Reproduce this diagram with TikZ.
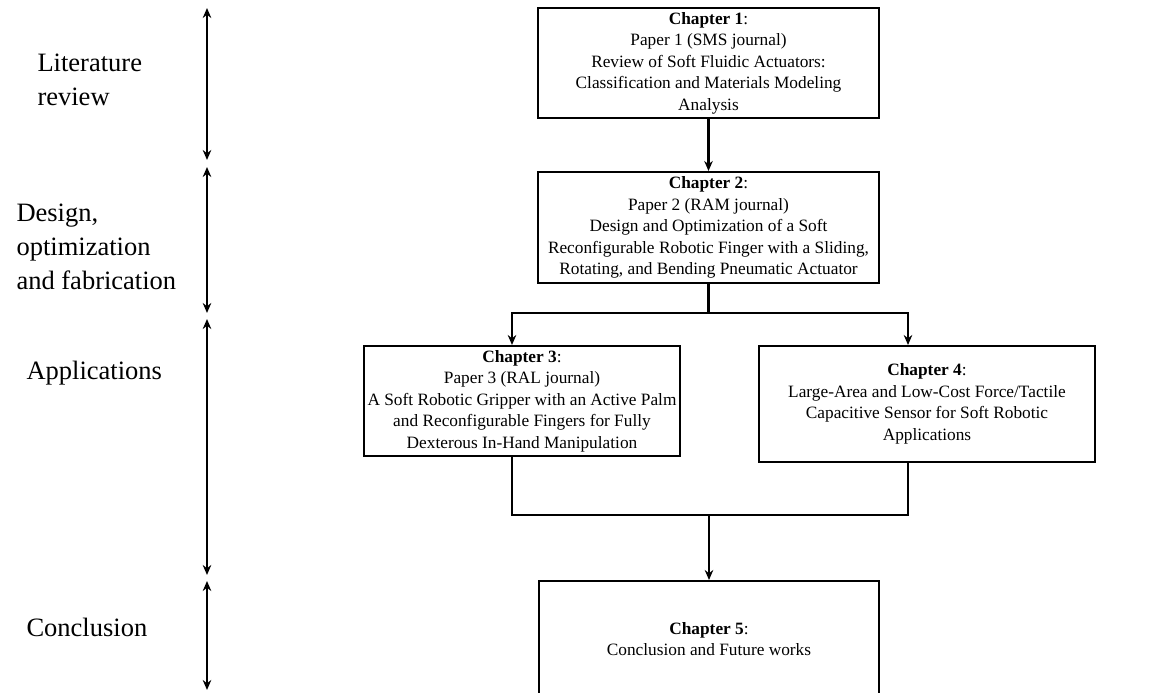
\documentclass[tikz,border=0pt]{standalone}
\usepackage{fontspec}
\setmainfont{Liberation Serif}
\usetikzlibrary{arrows.meta}

\begin{document}
\begin{tikzpicture}[
        x = 1pt, y = -1pt, % one unit per pixel, y going down
        > = {Stealth[length=10pt, width=8.5pt]}, % arrow head style
        line width = 2.4pt, % line style
        node distance = 164.5pt % distance between chapter 1 and 2
    ]

    \tikzstyle{chapter}=[
        draw = black,
        line width = 2pt,
        align = center,
        inner sep = 0pt,
        font = \fontsize{17.3}{21.5}\selectfont
    ]
    \tikzstyle{part}=[
        anchor = west,
        align = left,
        font = \fontsize{26.5}{34}\selectfont
    ]

    \useasboundingbox (0,0) rectangle (1171,693);

    % chapters
    \node[chapter, minimum width=341pt, minimum height=110pt] (ch1) at (708.5,63)
        {\textbf{Chapter 1}:\\Paper 1 (SMS journal)\\Review of Soft Fluidic Actuators:\\Classification and Materials Modeling\\Analysis};
    \node[chapter, minimum width=341pt, minimum height=111pt] (ch2) [below of=ch1]
        {\textbf{Chapter 2}:\\Paper 2 (RAM journal)\\Design and Optimization of a Soft\\Reconfigurable Robotic Finger with a Sliding,\\Rotating, and Bending Pneumatic Actuator};
    \node[chapter, minimum width=316pt, minimum height=110pt] (ch3) at (522,401)
        {\textbf{Chapter 3}:\\Paper 3 (RAL journal)\\A Soft Robotic Gripper with an Active Palm\\and Reconfigurable Fingers for Fully\\Dexterous In-Hand Manipulation};
    \node[chapter, minimum width=336pt, minimum height=116pt] (ch4) at (927,404)
        {\textbf{Chapter 4}:\\Large-Area and Low-Cost Force/Tactile\\Capacitive Sensor for Soft Robotic\\Applications};
    \node[chapter, minimum width=340pt, minimum height=116pt] (ch5) at (709,639)
        {\textbf{Chapter 5}:\\Conclusion and Future works};

    % parts of the thesis
    \node[part] (litrev) at (33,80) {Literature\\review};
    \node[part] (design) at (12,247) {Design,\\optimization\\and fabrication};
    \node[part] (apps) at (22,373) {Applications};
    \node[part] (concl) at (22,627) {Conclusion};

    % flow between chapters
    \coordinate (splitL) at (512,313);
    \coordinate (splitR) at (908,313);
    \coordinate (joinL) at (512,515);
    \coordinate (joinR) at (908,515);

    \draw[->] (ch1) -- (ch2);
    \draw[->] (ch2.south) |- (splitL) -- (splitL |- ch3.north);
    \draw[->] (ch2.south) |- (splitR) -- (splitR |- ch4.north);
    \draw (splitL |- ch3.south) -- (joinL) -- (joinR) -- (splitR |- ch4.south);
    \draw[->] (joinL -| ch5.north) -- (ch5.north);

    % spans on the left
    \foreach \i/\ya/\yb in {1/8/160, 2/167/313, 3/319/575, 4/581/690} {
        \coordinate (s\i a) at (207,\ya);
        \coordinate (s\i b) at (207,\yb);
        \draw[<->] (s\i a) -- (s\i b);
    }

\end{tikzpicture}
\end{document}
